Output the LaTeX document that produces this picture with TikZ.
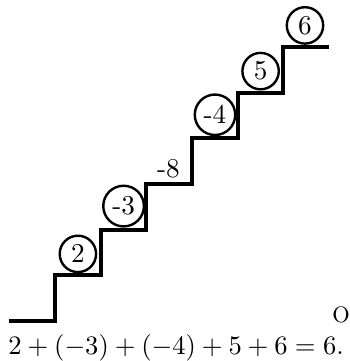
\documentclass[tikz,border=0pt]{standalone}
\usepackage{graphicx}
\newcommand{\stxt}[1]{\scalebox{1.36}{#1}}
\begin{document}
\begin{tikzpicture}[x=0.5pt,y=-0.5pt,
  txt/.style={inner sep=0pt},
  num/.style={draw, circle, line width=1.2pt, inner sep=2pt, minimum size=18.2pt, anchor=south},
  stair/.style={line width=2pt, line join=miter}]
\useasboundingbox (0,0) rectangle (350,361);
% stair profile
\draw[stair] (9,321) -- (55,321) -- (55,275.3) -- (100.7,275.3) -- (100.7,229.6)
  -- (146.4,229.6) -- (146.4,183.9) -- (192.1,183.9) -- (192.1,138.2)
  -- (237.8,138.2) -- (237.8,92.5) -- (283.5,92.5) -- (283.5,46.8) -- (329.2,46.8);
% numbers on the steps
\node[num] (n1) at (77.9,273.3) {\stxt{2}};
\node[num] (n2) at (123.6,227.6) {\stxt{-3}};
\node[txt, anchor=base] (n3) at (168.5,177) {\stxt{-8}};
\node[num] (n4) at (215,136.2) {\stxt{-4}};
\node[num] (n5) at (260.6,90.5) {\stxt{5}};
\node[num] (n6) at (305,44.8) {\stxt{6}};
% labels
\node[txt, anchor=base] (o) at (341,322.5) {\scalebox{1.12}{O}};
\node[txt, anchor=base west] (eq) at (8,354) {\scalebox{1.33}{$2+(-3)+(-4)+5+6=6.$}};
\end{tikzpicture}
\end{document}
